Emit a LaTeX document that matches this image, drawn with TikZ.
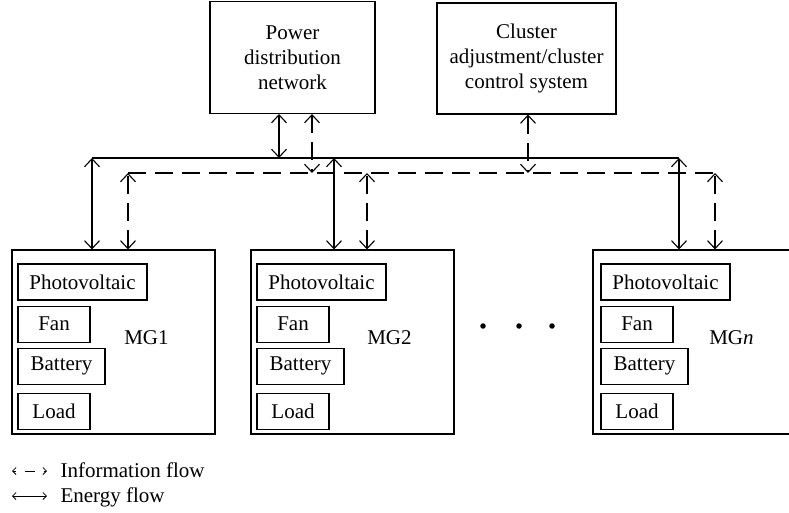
\documentclass[tikz,border=0pt]{standalone}
\usepackage{fontspec}
\setmainfont{Liberation Serif}
\usetikzlibrary{positioning,arrows.meta}

\begin{document}
\begin{tikzpicture}[x=1pt, y=-1pt, line width=1.1pt,
    >={Straight Barb[length=8pt,width=15pt]},
    every node/.style={font=\fontsize{21}{25}\selectfont},
    topbox/.style={rectangle, draw, align=center, inner sep=2pt},
    mgbox/.style={rectangle, draw, minimum width=203pt, minimum height=184pt},
    comp/.style={rectangle, draw, minimum height=36pt, inner sep=2pt, anchor=north west},
    dot/.style={circle, fill, inner sep=0pt, minimum size=5.5pt},
    energy/.style={<->},
    info/.style={<->, dash pattern=on 18pt off 9pt},
    legend/.style={anchor=base west, inner sep=0pt}]
    \clip (0,0) rectangle (789,513);

    % Nodes
    \node[topbox, minimum width=165pt, minimum height=112pt] (pdn) at (292.5,57.5) {Power\\distribution\\network};
    \node[topbox, minimum width=179pt, minimum height=111pt] (ccs) at (526.5,58.5) {Cluster\\adjustment/cluster\\control system};

    \node[mgbox] (mg1) at (113.5,342) {};
    \node[mgbox] (mg2) at (352.5,342) {};
    \node[mgbox] (mgn) at (694.5,342) {};
    \node (lab1) at ([xshift=135pt, yshift=4pt]mg1.west) {MG1};
    \node (lab2) at ([xshift=139pt, yshift=4pt]mg2.west) {MG2};
    \node (labn) at ([xshift=139pt, yshift=4pt]mgn.west) {MG\textit{n}};

    \node[comp, minimum width=129pt] (pv1) at ([shift={(6pt,-14pt)}]mg1.north west) {Photovoltaic};
    \node[comp, minimum width=72pt, below right=5pt and 0pt of pv1.south west] (fan1) {Fan};
    \node[comp, minimum width=87pt, below right=5pt and 0pt of fan1.south west] (bat1) {Battery};
    \node[comp, minimum width=72pt, below right=8pt and 0pt of bat1.south west] (load1) {Load};

    \node[comp, minimum width=129pt] (pv2) at ([shift={(6pt,-14pt)}]mg2.north west) {Photovoltaic};
    \node[comp, minimum width=72pt, below right=5pt and 0pt of pv2.south west] (fan2) {Fan};
    \node[comp, minimum width=87pt, below right=5pt and 0pt of fan2.south west] (bat2) {Battery};
    \node[comp, minimum width=72pt, below right=8pt and 0pt of bat2.south west] (load2) {Load};

    \node[comp, minimum width=129pt] (pvn) at ([shift={(8pt,-14pt)}]mgn.north west) {Photovoltaic};
    \node[comp, minimum width=72pt, below right=5pt and 0pt of pvn.south west] (fann) {Fan};
    \node[comp, minimum width=87pt, below right=5pt and 0pt of fann.south west] (batn) {Battery};
    \node[comp, minimum width=72pt, below right=8pt and 0pt of batn.south west] (loadn) {Load};

    \node[dot] (d1) at (483,326) {};
    \node[dot] (d2) at (519,326) {};
    \node[dot] (d3) at (552,326) {};

    % Bus points
    \coordinate (eL) at (92,158);
    \coordinate (eR) at (679,158);
    \coordinate (ep) at (279,158);
    \coordinate (e2) at (334,158);
    \coordinate (iL) at (128,173);
    \coordinate (iR) at (715,173);
    \coordinate (ip) at (312,173);
    \coordinate (ic) at (528,173);
    \coordinate (i2) at (367,173);

    % Arrows
    \draw (eL) -- (eR);
    \draw[dash pattern=on 18pt off 9pt] (iL) -- (iR);
    \draw[energy] (pdn.south -| ep) -- (ep);
    \draw[info] (pdn.south -| ip) -- (ip);
    \draw[info] (ccs.south -| ic) -- (ic);
    \draw[energy] (mg1.north -| eL) -- (eL);
    \draw[info] (mg1.north -| iL) -- (iL);
    \draw[energy] (mg2.north -| e2) -- (e2);
    \draw[info] (mg2.north -| i2) -- (i2);
    \draw[energy] (mgn.north -| eR) -- (eR);
    \draw[info] (mgn.north -| iR) -- (iR);

    % Legend
    \coordinate (li1) at (12,471);
    \coordinate (li2) at (47,471);
    \coordinate (le1) at (12,496);
    \coordinate (le2) at (47,496);
    \draw[line width=0.8pt, {Straight Barb[length=3.5pt,width=7pt]}-{Straight Barb[length=3.5pt,width=7pt]}, dash pattern=on 3pt off 9pt on 10pt off 9pt on 4pt off 0pt] (li1) -- (li2);
    \draw[line width=0.8pt, {Straight Barb[length=3.5pt,width=7pt]}-{Straight Barb[length=3.5pt,width=7pt]}] (le1) -- (le2);
    \node[legend] (leginfo) at (60,477) {Information flow};
    \node[legend] (legenergy) at (60,502) {Energy flow};
\end{tikzpicture}
\end{document}
